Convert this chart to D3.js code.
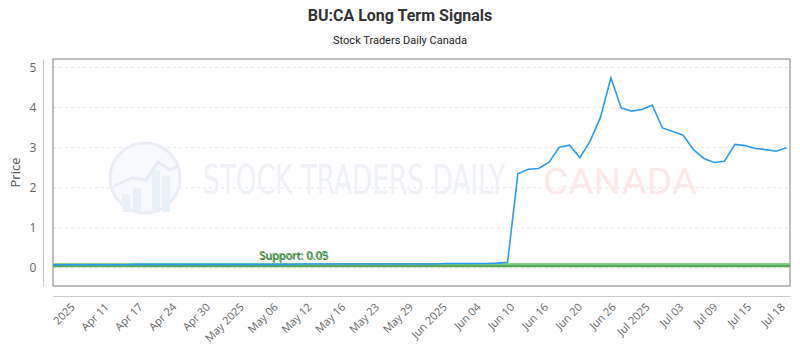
<!DOCTYPE html>
<html>
<head>
<meta charset="utf-8">
<script src="https://cdn.jsdelivr.net/npm/d3@7"></script>
<style>
  body { margin: 0; background: #fff; }
  text { font-family: "Open Sans", sans-serif; }
</style>
</head>
<body>
<div id="chart"></div>
<script>
// trading days, Apr 7 to Jul 18 2025 (TSX holidays skipped)
var dates = [
  "2025-04-07","2025-04-08","2025-04-09","2025-04-10","2025-04-11",
  "2025-04-14","2025-04-15","2025-04-16","2025-04-17",
  "2025-04-21","2025-04-22","2025-04-23","2025-04-24","2025-04-25",
  "2025-04-28","2025-04-29","2025-04-30",
  "2025-05-01","2025-05-02",
  "2025-05-05","2025-05-06","2025-05-07","2025-05-08","2025-05-09",
  "2025-05-12","2025-05-13","2025-05-14","2025-05-15","2025-05-16",
  "2025-05-20","2025-05-21","2025-05-22","2025-05-23",
  "2025-05-26","2025-05-27","2025-05-28","2025-05-29","2025-05-30",
  "2025-06-02","2025-06-03","2025-06-04","2025-06-05","2025-06-06",
  "2025-06-09","2025-06-10","2025-06-11","2025-06-12","2025-06-13",
  "2025-06-16","2025-06-17","2025-06-18","2025-06-19","2025-06-20",
  "2025-06-23","2025-06-24","2025-06-25","2025-06-26","2025-06-27",
  "2025-06-30",
  "2025-07-02","2025-07-03","2025-07-04",
  "2025-07-07","2025-07-08","2025-07-09","2025-07-10","2025-07-11",
  "2025-07-14","2025-07-15","2025-07-16","2025-07-17","2025-07-18"
];

var prices = [
  0.08,0.08,0.08,0.08,0.08,
  0.08,0.08,0.08,0.09,
  0.09,0.09,0.09,0.09,0.09,
  0.09,0.09,0.09,
  0.09,0.09,
  0.09,0.09,0.09,0.09,0.09,
  0.10,0.10,0.10,0.10,0.10,
  0.10,0.10,0.10,0.10,
  0.10,0.10,0.10,0.10,0.10,
  0.11,0.11,0.11,0.11,0.11,
  0.12,0.14,2.35,2.46,2.48,
  2.63,3.01,3.06,2.75,3.17,
  3.76,4.74,3.99,3.91,3.95,
  4.06,
  3.49,3.40,3.31,
  2.95,2.73,2.63,2.66,3.08,
  3.05,2.98,2.95,2.91,3.00
];

var supports = [0.09, 0.05];

var tickLabels = ["2025","Apr 11","Apr 17","Apr 24","Apr 30","May 2025","May 06",
  "May 12","May 16","May 23","May 29","Jun 2025","Jun 04","Jun 10","Jun 16",
  "Jun 20","Jun 26","Jul 2025","Jul 03","Jul 09","Jul 15","Jul 18"];

var yTicks = [0, 1, 2, 3, 4, 5];

var width = 800, height = 350;
var plotLeft = 53, plotRight = 790, plotTop = 59, plotBottom = 286;

var svg = d3.select("#chart").append("svg")
    .attr("width", width)
    .attr("height", height);

// titles
svg.append("text")
    .attr("x", width / 2).attr("y", 21)
    .attr("text-anchor", "middle")
    .style("font-family", "Roboto, sans-serif")
    .style("font-weight", "bold")
    .style("font-size", "16px")
    .attr("fill", "#333")
    .text("BU:CA Long Term Signals");

svg.append("text")
    .attr("x", width / 2).attr("y", 44)
    .attr("text-anchor", "middle")
    .style("font-family", "Roboto, sans-serif")
    .style("font-size", "11px")
    .attr("fill", "#222")
    .text("Stock Traders Daily Canada");

var xScale = d3.scalePoint()
    .domain(dates)
    .range([plotLeft, 786.5]);

var yScale = d3.scaleLinear()
    .domain([-0.45, 5.21])
    .range([plotBottom, plotTop]);

// grid
svg.append("g")
    .selectAll("line")
    .data(yTicks)
    .enter()
    .append("line")
    .attr("x1", plotLeft).attr("x2", plotRight)
    .attr("y1", function(d) { return yScale(d); })
    .attr("y2", function(d) { return yScale(d); })
    .attr("stroke", "#e6e6e6")
    .attr("stroke-dasharray", "3,3");

// watermark
var wm = svg.append("g").attr("class", "watermark");
wm.append("circle")
    .attr("cx", 145).attr("cy", 178).attr("r", 35)
    .attr("fill", "#f7f9fd")
    .attr("stroke", "#e9eef6")
    .attr("stroke-width", 3);
wm.selectAll("rect.wmbar")
    .data([[122, 194, 8, 18], [133, 188, 8, 24], [152, 170, 8, 42], [162, 176, 8, 36]])
    .enter()
    .append("rect")
    .attr("x", function(d) { return d[0]; })
    .attr("y", function(d) { return d[1]; })
    .attr("width", function(d) { return d[2]; })
    .attr("height", function(d) { return d[3]; })
    .attr("fill", "#eaf0f8");
wm.append("polyline")
    .attr("points", "114,186 132,178 146,180 158,162 170,170 178,166")
    .attr("fill", "none")
    .attr("stroke", "#e6ecf5")
    .attr("stroke-width", 3);
wm.append("text")
    .attr("x", 203).attr("y", 194)
    .attr("textLength", 302)
    .attr("lengthAdjust", "spacingAndGlyphs")
    .style("font-family", "'Liberation Sans Narrow', 'DejaVu Sans Condensed', sans-serif")
    .style("font-size", "40px")
    .attr("fill", "#eef1f6")
    .text("STOCK TRADERS DAILY");
wm.append("text")
    .attr("x", 543).attr("y", 194)
    .attr("textLength", 154)
    .attr("lengthAdjust", "spacingAndGlyphs")
    .style("font-family", "Roboto, sans-serif")
    .style("font-size", "37px")
    .attr("fill", "#fde8e8")
    .text("CANADA");

// frame
svg.append("rect")
    .attr("x", plotLeft).attr("y", plotTop)
    .attr("width", plotRight - plotLeft).attr("height", plotBottom - plotTop)
    .attr("fill", "none")
    .attr("stroke", "#808080")
    .attr("stroke-width", 1);

// y axis
var yAxis = d3.axisLeft(yScale)
    .tickValues(yTicks)
    .tickFormat(d3.format("d"))
    .tickSize(0)
    .tickPadding(0);
var yG = svg.append("g")
    .attr("transform", "translate(43,0)")
    .call(yAxis);
yG.select(".domain").attr("stroke", "#cccccc");
yG.selectAll("text")
    .attr("x", -10)
    .attr("text-anchor", "middle")
    .style("font-family", "'Open Sans', sans-serif")
    .style("font-size", "12px")
    .attr("fill", "#666");

svg.append("text")
    .attr("transform", "translate(20," + (plotTop + plotBottom) / 2 + ")rotate(-90)")
    .attr("text-anchor", "middle")
    .style("font-family", "'Open Sans', sans-serif")
    .style("font-size", "13px")
    .attr("fill", "#555")
    .text("Price");

// x axis labels
var tickScale = d3.scalePoint()
    .domain(tickLabels)
    .range([73, 783]);

svg.append("line")
    .attr("x1", plotLeft).attr("x2", plotRight)
    .attr("y1", 296.5).attr("y2", 296.5)
    .attr("stroke", "#cccccc");

svg.append("g")
    .selectAll("text")
    .data(tickLabels)
    .enter()
    .append("text")
    .attr("transform", function(d) {
        return "translate(" + tickScale(d) + ",305)rotate(-45)";
    })
    .attr("text-anchor", "end")
    .attr("dy", "0.35em")
    .style("font-size", "11px")
    .attr("fill", "#666")
    .text(function(d) { return d; });

// support lines
var supportColors = ["#8fd08a", "#5aa85a"];
svg.append("g")
    .selectAll("line")
    .data(supports)
    .enter()
    .append("line")
    .attr("x1", plotLeft).attr("x2", plotRight)
    .attr("y1", function(d) { return yScale(d); })
    .attr("y2", function(d) { return yScale(d); })
    .attr("stroke", function(d, i) { return supportColors[i]; })
    .attr("stroke-width", 2.5);

// price line
var line = d3.line()
    .x(function(d, i) { return xScale(dates[i]); })
    .y(function(d) { return yScale(d); });

svg.append("path")
    .datum(prices)
    .attr("d", line)
    .attr("fill", "none")
    .attr("stroke", "#2b9cf2")
    .attr("stroke-width", 1.6);

// support labels
svg.append("g")
    .selectAll("text")
    .data(supports)
    .enter()
    .append("text")
    .attr("x", function(d, i) { return 259 + i; })
    .attr("y", function(d, i) { return 259 + i; })
    .style("font-size", "11px")
    .attr("fill", function(d, i) { return i === 0 ? "#4f9a4f" : "#2e7d32"; })
    .text(function(d) { return "Support: " + d.toFixed(2); });
</script>
</body>
</html>
